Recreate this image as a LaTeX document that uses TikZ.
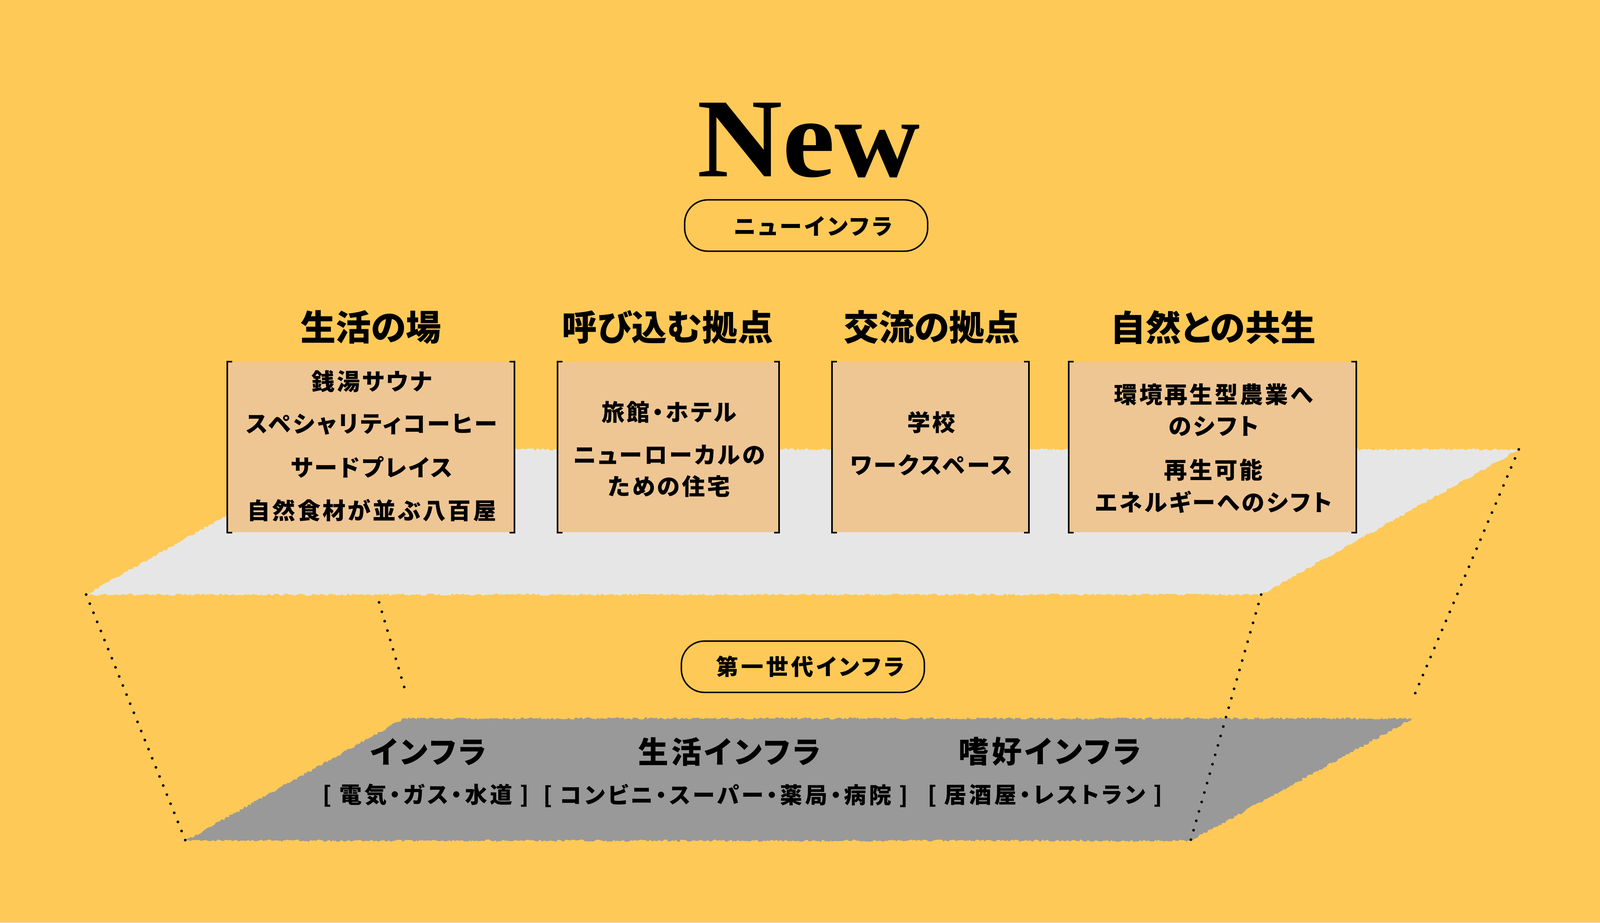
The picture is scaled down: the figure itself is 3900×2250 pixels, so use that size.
\documentclass[tikz,border=0pt]{standalone}
\usepackage{fontspec}
\newfontfamily\jp[RawFeature=+palt]{Noto Sans CJK JP}
\newfontfamily\jpa[RawFeature=+palt, LetterSpace=9]{Noto Sans CJK JP}
\newfontfamily\jpb[RawFeature=+palt, LetterSpace=12]{Noto Sans CJK JP}
\newfontfamily\serifb{Liberation Serif}
\usetikzlibrary{decorations.pathmorphing,calc}
\definecolor{bgyellow}{HTML}{FEC957}
\definecolor{tanbox}{HTML}{EEC694}
\definecolor{lightplane}{HTML}{E6E6E6}
\definecolor{darkplane}{HTML}{999999}
\tikzset{
  rough/.style={decorate, decoration={random steps, segment length=1.2pt, amplitude=0.8pt}},
  dots/.style={line width=1.9pt, line cap=round, dash pattern=on 0pt off 6.8pt},
  pill/.style={draw=black, line width=1pt, rounded corners=16pt, minimum width=5.92cm, minimum height=1.25cm, inner sep=0pt},
  pilltext/.style={font=\jpb\bfseries\fontsize{15.5}{18}\selectfont, inner sep=0pt},
  catbox/.style={fill=tanbox, minimum height=4.15cm, inner sep=0pt},
  bracket/.style={line width=1.2pt},
  cathead/.style={font=\jp\bfseries\fontsize{24.5}{28}\selectfont, inner sep=0pt},
  boxtext/.style={font=\jpa\bfseries\fontsize{16}{20}\selectfont, inner sep=0pt},
  lowhead/.style={font=\jpa\bfseries\fontsize{21}{24}\selectfont, inner sep=0pt},
  lowsub/.style={font=\jpb\bfseries\fontsize{15.5}{18}\selectfont, inner sep=0pt}
}
\begin{document}
\begin{tikzpicture}[x=0.01cm, y=-0.01cm]
\fill[bgyellow] (0,0) rectangle (3900,2250);
\useasboundingbox (0,0) rectangle (3900,2250);

% plane corners
\coordinate (uBL) at (210,1450);
\coordinate (uBR) at (3074,1450);
\coordinate (uTR) at (3702,1096);
\coordinate (uTL) at (838,1096);
\coordinate (lBL) at (452,2050);
\coordinate (lBR) at (2902,2050);
\coordinate (lTR) at (3444,1752);
\coordinate (lTL) at (985,1752);
\coordinate (d2a) at (924,1469);
\coordinate (d2b) at (991,1695);
\coordinate (d4b) at (3443,1706);

% planes
\fill[lightplane, rough] (uBL) -- (uBR) -- (uTR) -- (uTL) -- cycle;
\fill[darkplane, rough] (lBL) -- (lBR) -- (lTR) -- (lTL) -- cycle;

% dotted connectors
\draw[dots] (uBL) -- (lBL);
\draw[dots] (d2a) -- (d2b);
\draw[dots] (uBR) -- (lBR);
\draw[dots] (uTR) -- (d4b);

% title
\node[anchor=base, inner sep=0pt, font=\serifb\bfseries\fontsize{78}{80}\selectfont] (title) at (1971,430) {\scalebox{1.05}[1]{New}};
\node[pill] (pillnew) at (1965,550) {};
\node[pilltext] (pillnewtext) at (1982,552) {ニューインフラ};

% category headings
\node[cathead] (h1) at (904,798) {生活の場};
\node[cathead] (h2) at (1627,798) {呼び込む拠点};
\node[cathead] (h3) at (2271,798) {交流の拠点};
\node[cathead] (h4) at (2957,798) {自然との共生};

% boxes
\node[catbox, minimum width=6.98cm] (box1) at (904,1090.5) {};
\node[catbox, minimum width=5.38cm] (box2) at (1629,1090.5) {};
\node[catbox, minimum width=4.78cm] (box3) at (2268,1090.5) {};
\node[catbox, minimum width=6.99cm] (box4) at (2955.5,1090.5) {};
\foreach \b in {box1,box2,box3,box4}{
  \draw[bracket] ([xshift=0.12cm]\b.north west) -| (\b.south west) -- ++(12,0);
  \draw[bracket] ([xshift=-0.12cm]\b.north east) -| (\b.south east) -- ++(-12,0);
}

% box texts
\node[boxtext] (t11) at (906,930) {銭湯サウナ};
\node[boxtext] (t12) at (906,1035) {スペシャリティコーヒー};
\node[boxtext] (t13) at (906,1139) {サードプレイス};
\node[boxtext] (t14) at (906,1244) {自然食材が並ぶ八百屋};
\node[boxtext] (t21) at (1631,1005) {旅館・ホテル};
\node[boxtext] (t22) at (1631,1109) {ニューローカルの};
\node[boxtext] (t23) at (1631,1186) {ための住宅};
\node[boxtext] (t31) at (2270,1030) {学校};
\node[boxtext] (t32) at (2270,1134) {ワークスペース};
\node[boxtext] (t41) at (2958,962) {環境再生型農業へ};
\node[boxtext] (t42) at (2958,1040) {のシフト};
\node[boxtext] (t43) at (2958,1146) {再生可能};
\node[boxtext] (t44) at (2958,1224) {エネルギーへのシフト};

% first generation pill
\node[pill] (pillold) at (1957,1626) {};
\node[pilltext] (pilloldtext) at (1975,1626) {第一世代インフラ};

% lower plane texts
\node[lowhead] (l1) at (1044,1833) {インフラ};
\node[lowhead] (l2) at (1778,1833) {生活インフラ};
\node[lowhead] (l3) at (2559,1833) {嗜好インフラ};
\node[lowsub] (s1) at (1038,1940) {[ 電気・ガス・水道 ]};
\node[lowsub] (s2) at (1769,1940) {[ コンビニ・スーパー・薬局・病院 ]};
\node[lowsub] (s3) at (2547,1940) {[ 居酒屋・レストラン ]};
\end{tikzpicture}
\end{document}
